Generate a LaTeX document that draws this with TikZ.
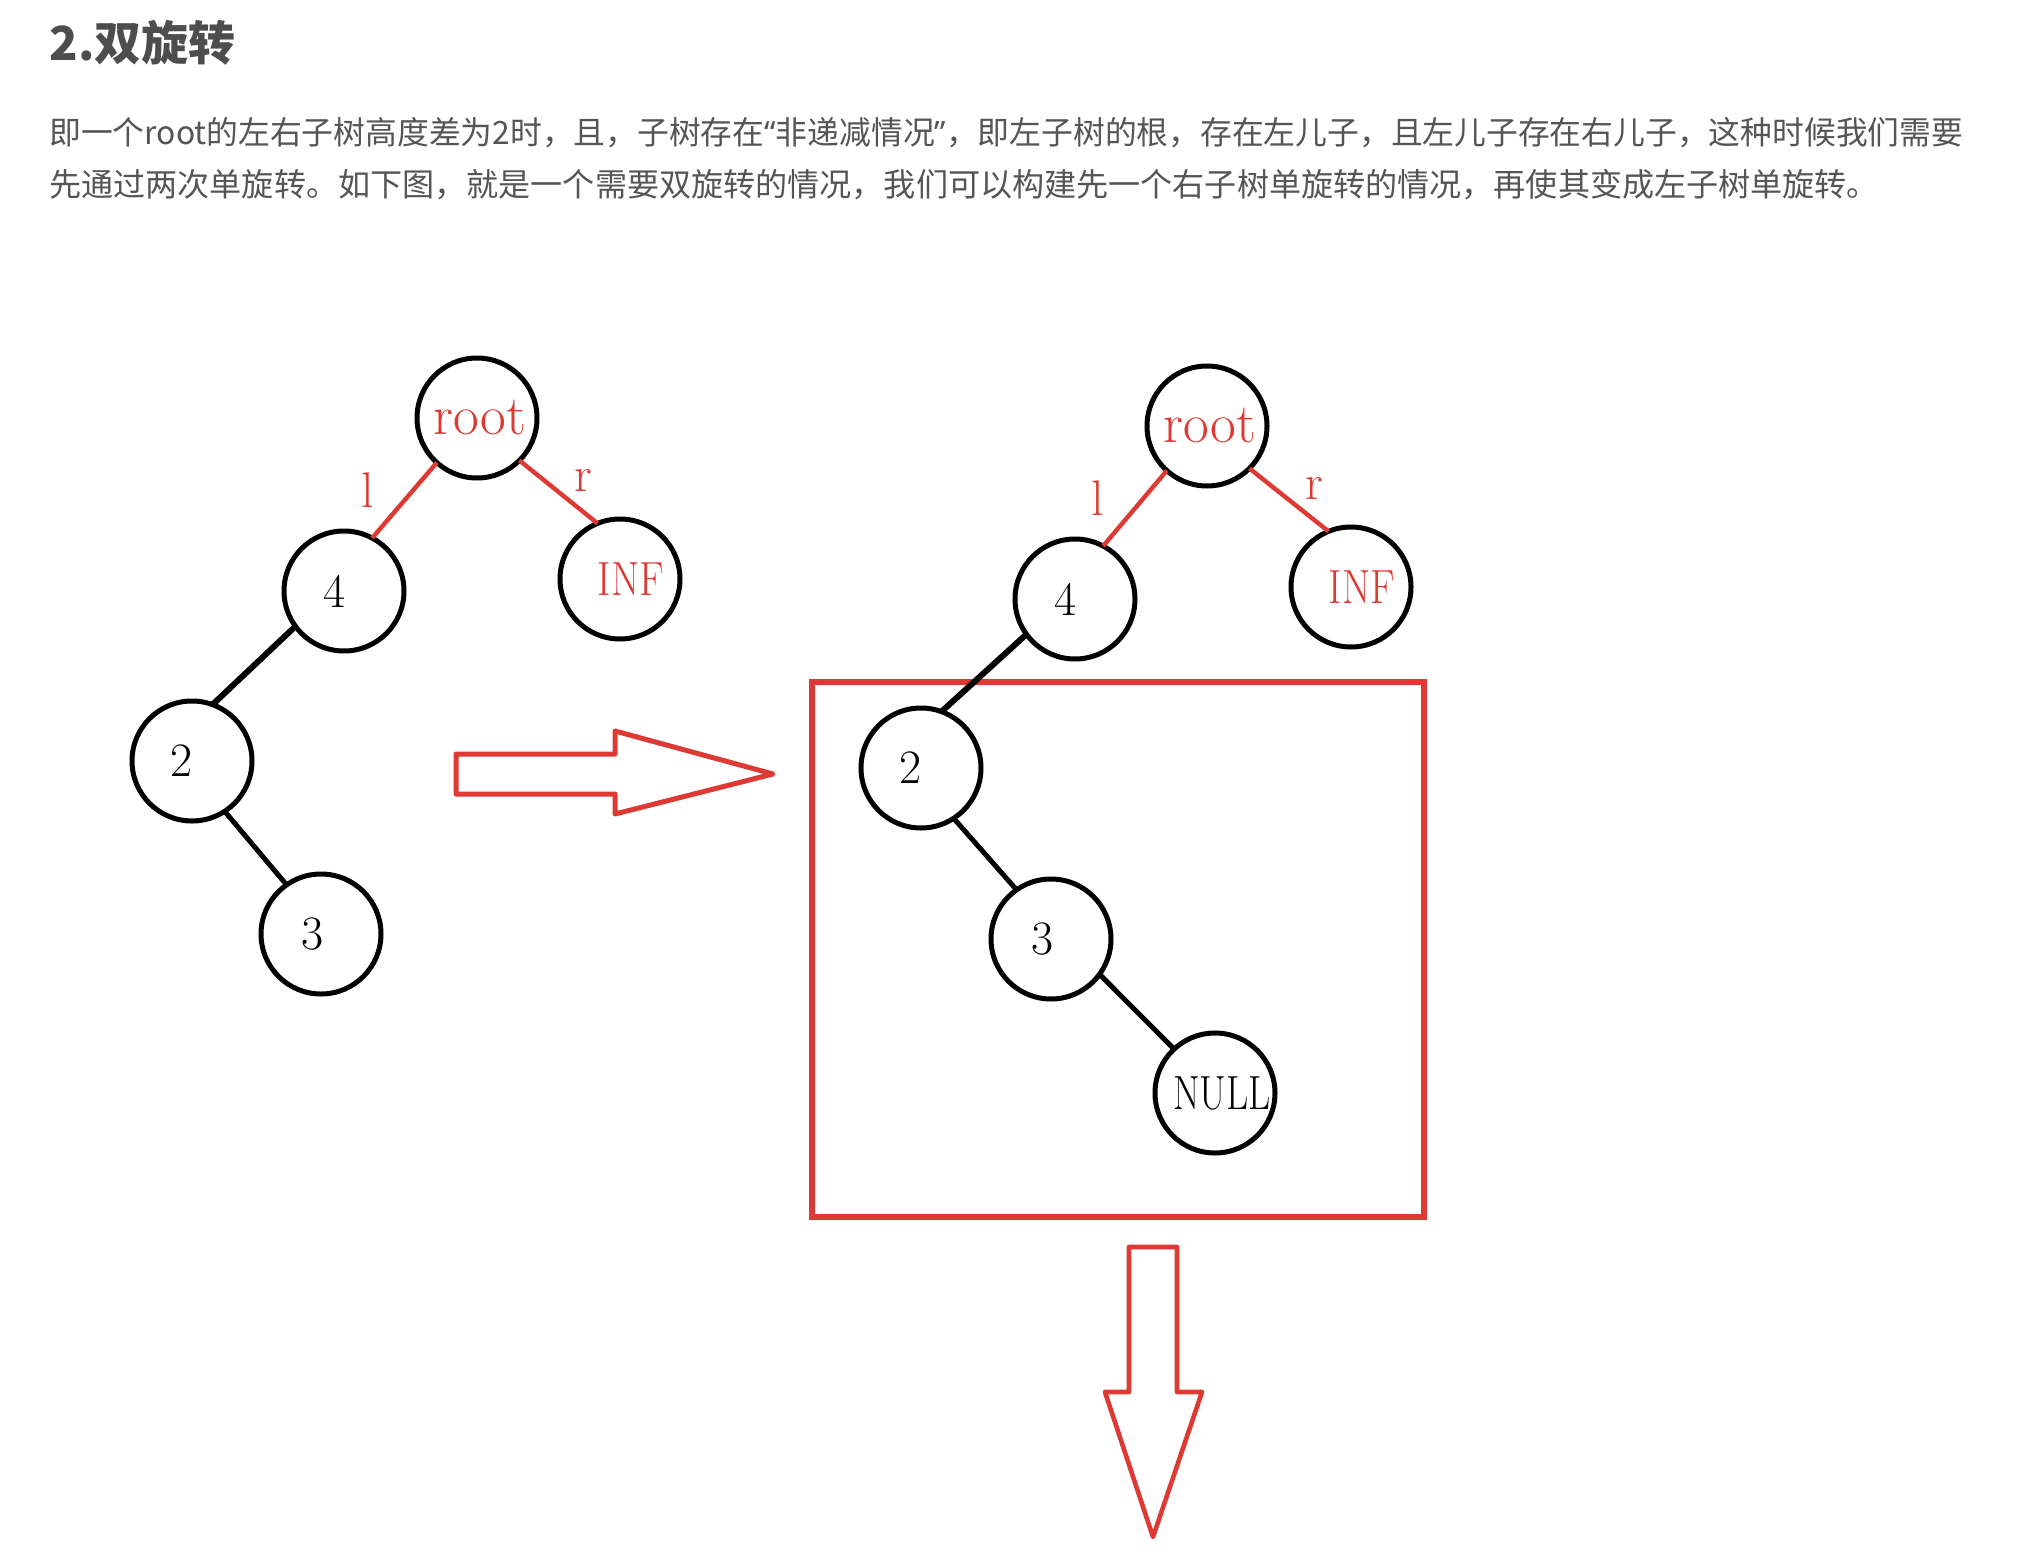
\documentclass[tikz,border=0pt]{standalone}
\usepackage{fontspec}
\newfontfamily\cjk{Noto Sans CJK SC}
\newfontfamily\quotefont{Noto Sans}
\definecolor{hred}{RGB}{220,58,50}
\definecolor{txtgray}{RGB}{85,85,85}
\definecolor{titlegray}{RGB}{77,77,77}
% text set a little off the centre of its circle
\newcommand\nudge[2]{\makebox[0pt]{\kern#1\relax#2\kern-#1\relax}}

\begin{document}
\begin{tikzpicture}[x=0.5pt,y=-0.5pt,
	tnode/.style={draw,circle,line width=2.5pt,inner sep=0,outer sep=0,minimum size=60pt,font=\fontsize{24}{28}\selectfont},
	redline/.style={draw=hred,line width=2.2pt},
	blackline/.style={line width=2.5pt},
	lab/.style={text=hred,font=\fontsize{25}{28}\selectfont},
	para/.style={anchor=west,inner sep=0,text=txtgray,font=\cjk\fontsize{16.05}{20}\selectfont}]
	\useasboundingbox (0,0) rectangle (2020,1552);
	% heading and text
	\node[anchor=west,inner sep=0,text=titlegray,font=\cjk\bfseries\fontsize{23.5}{28}\selectfont] (title) at (49,43) {2.双旋转};
	\node[para] (line1) at (49,133) {\scalebox{0.99}[1]{即一个root的左右子树高度差为2时，且，子树存在{\quotefont“}非递减情况{\quotefont”}，即左子树的根，存在左儿子，且左儿子存在右儿子，这种时候我们需要}};
	\node[para] (line2) at (49,185) {先通过两次单旋转。如下图，就是一个需要双旋转的情况，我们可以构建先一个右子树单旋转的情况，再使其变成左子树单旋转。};
	% first tree
	\node[tnode,text=hred,font=\fontsize{28}{30}\selectfont] (root1) at (477,418) {\nudge{1.5pt}{root}};
	\node[tnode] (n41) at (344,591) {\nudge{-4.5pt}{4}};
	\node[tnode,text=hred] (inf1) at (620,579) {\nudge{5.5pt}{\scalebox{0.85}[1]{INF}}};
	\node[tnode] (n21) at (192,761) {\nudge{-5pt}{2}};
	\node[tnode] (n31) at (321,934) {\nudge{-4pt}{3}};
	\draw[redline] (root1.-132) -- node[lab,xshift=-18.5pt,yshift=5pt] (l1) {l} (n41.62);
	\draw[redline] (root1.-45) -- node[lab,xshift=12.5pt,yshift=5.5pt] (r1) {r} (inf1.112);
	\draw[blackline,line width=3pt] (n41.216) -- (n21.70);
	\draw[blackline] (n21.-57) -- (n31.125);
	% arrow to the right
	\draw[hred,line width=2.5pt,line join=round] (456,754) -- (615,754) -- (615,731) -- (773,774) -- (615,814) -- (615,794) -- (456,794) -- cycle;
	% second tree
	\draw[hred,line width=2.75pt] (812,682) rectangle (1424,1217);
	\node[tnode,text=hred,font=\fontsize{28}{30}\selectfont] (root2) at (1207,426) {\nudge{1.5pt}{root}};
	\node[tnode] (n42) at (1075,599) {\nudge{-4.5pt}{4}};
	\node[tnode,text=hred] (inf2) at (1351,587) {\nudge{5.5pt}{\scalebox{0.85}[1]{INF}}};
	\node[tnode] (n22) at (921,768) {\nudge{-5pt}{2}};
	\node[tnode] (n32) at (1051,939) {\nudge{-4pt}{3}};
	\node[tnode] (null2) at (1215,1093) {\nudge{3.5pt}{\scalebox{0.8}[1]{NULL}}};
	\draw[redline] (root2.-132) -- node[lab,xshift=-18.5pt,yshift=5pt] (l2) {l} (n42.62);
	\draw[redline] (root2.-45) -- node[lab,xshift=12.5pt,yshift=5.5pt] (r2) {r} (inf2.112);
	\draw[blackline,line width=3pt] (n42.216) -- (n22.70);
	\draw[blackline] (n22.-57) -- (n32.125);
	\draw[blackline] (n32.-36) -- (null2.133);
	% arrow down
	\draw[hred,line width=2.3pt,line join=round] (1129,1247) -- (1177,1247) -- (1177,1392) -- (1202,1392) -- (1153,1537) -- (1105,1392) -- (1129,1392) -- cycle;
\end{tikzpicture}
\end{document}
